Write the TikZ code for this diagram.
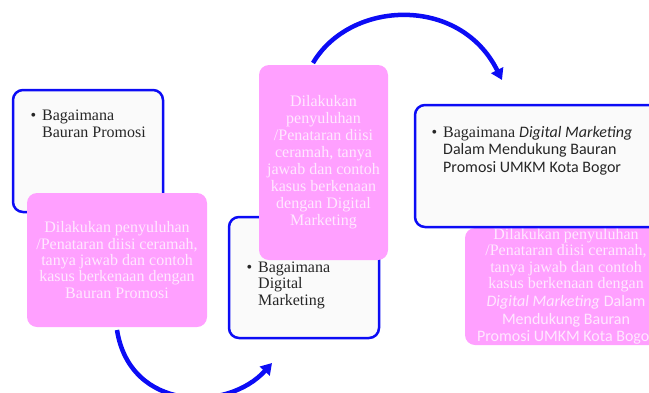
\documentclass[tikz,border=0pt]{standalone}
\usepackage{fontspec}
\setmainfont{Liberation Serif}
\newfontfamily\carlito{Carlito}
\usetikzlibrary{arrows.meta}

\definecolor{boxblue}{RGB}{12,12,245}
\definecolor{pinkfill}{RGB}{255,160,255}
\definecolor{pinktext}{RGB}{255,232,255}
\definecolor{paper}{RGB}{250,250,250}

\tikzset{
  whitebox/.style={draw=boxblue, line width=2.5pt, fill=paper, rounded corners=10pt, inner sep=0pt},
  pinkbox/.style={fill=pinkfill, rounded corners=10pt, inner sep=0pt, text=pinktext, align=center},
  bullettxt/.style={text=black!85, align=left, anchor=base west, inner sep=0pt, font=\fontsize{16}{16.5}\selectfont},
  flow/.style={draw=boxblue, line width=4.5pt, arrows={-Triangle[length=11pt,width=13pt]}}
}

\newcommand{\blt}{\llap{\textbullet\hspace{6pt}}}

\begin{document}
\begin{tikzpicture}[x=1pt,y=-1pt]
\useasboundingbox (0,0) rectangle (649,392);
\clip (0,0) rectangle (649,392);

\coordinate (arcAstart) at (117,330);
\coordinate (arcAend) at (272,363);
\coordinate (arcBstart) at (313,63);
\coordinate (arcBend) at (502,80);

	% first step: bauran promosi (base = last line)
	\node[whitebox, minimum width=150, minimum height=122] (bauranbox) at (88,151) {};
	\node[bullettxt] (baurantxt) at (42,137) {\blt Bagaimana\\Bauran Promosi};
	\node[pinkbox, minimum width=180, minimum height=134, font=\fontsize{16}{16.3}\selectfont] (bauranpink) at (117,260)
		{Dilakukan penyuluhan\\/Penataran diisi ceramah,\\tanya jawab dan contoh\\kasus berkenaan dengan\\Bauran Promosi};

	% second step: digital marketing
	\node[whitebox, minimum width=150, minimum height=121] (digitalbox) at (304,277.5) {};
	\node[bullettxt] (digitaltxt) at (258,305) {\blt Bagaimana\\Digital\\Marketing};
	\node[pinkbox, minimum width=129, minimum height=195, font=\fontsize{16}{17}\selectfont] (digitalpink) at (323.5,162.5)
		{Dilakukan\\penyuluhan\\/Penataran diisi\\ceramah, tanya\\jawab dan contoh\\kasus berkenaan\\dengan Digital\\Marketing};

	% third step: runs past the right edge
	\node[pinkbox, minimum width=202, minimum height=117, font=\fontsize{16}{16.3}\selectfont] (umkmpink) at (566,286.5)
		{Dilakukan penyuluhan\\/Penataran diisi ceramah,\\tanya jawab dan contoh\\kasus berkenaan dengan\\[1.5pt]
		 {\carlito\itshape Digital Marketing} {\carlito Dalam}\\[1.5pt]{\carlito Mendukung Bauran}\\[1.5pt]{\carlito Promosi UMKM Kota Bogor}};
	\node[whitebox, minimum width=255, minimum height=122] (umkmbox) at (542.5,166) {};
	\node[bullettxt, font=\fontsize{16}{17.5}\selectfont] (umkmtxt) at (443,172)
		{\blt Bagaimana {\carlito\itshape Digital Marketing}\\{\carlito Dalam Mendukung Bauran}\\{\carlito Promosi UMKM Kota Bogor}};

	% arrows between steps
	\draw[flow] (arcAstart) .. controls (130,412) and (228,412) .. (arcAend);
	\draw[flow] (arcBstart) .. controls (350,0) and (460,-5) .. (arcBend);

\end{tikzpicture}
\end{document}
